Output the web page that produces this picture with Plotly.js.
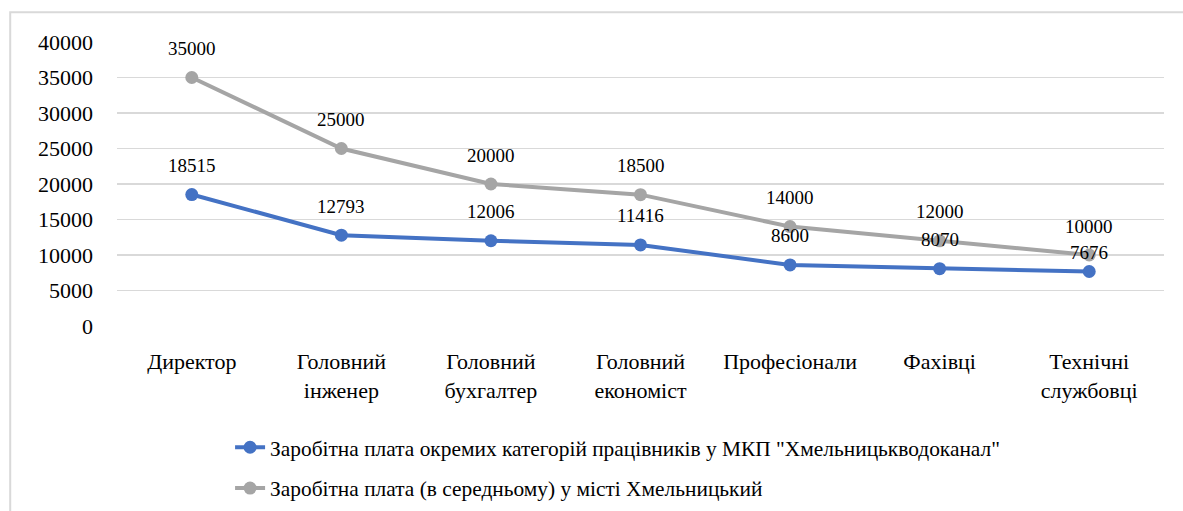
<!DOCTYPE html>
<html><head><meta charset="utf-8">
<script src="https://cdn.plot.ly/plotly-3.0.1.min.js"></script>
<style>html,body{margin:0;padding:0;background:#fff}#chart{width:1183px;height:511px}</style>
</head><body><div id="chart"></div>
<script>
var categories = ["Директор", "Головний<br>інженер", "Головний<br>бухгалтер", "Головний<br>економіст", "Професіонали", "Фахівці", "Технічні<br>службовці"];
var enterpriseSalary = [18515, 12793, 12006, 11416, 8600, 8070, 7676];
var citySalary = [35000, 25000, 20000, 18500, 14000, 12000, 10000];
var seriesNames = ["Заробітна плата окремих категорій працівників у МКП \"Хмельницькводоканал\"", "Заробітна плата (в середньому) у місті Хмельницький"];
var yTicks = [0, 5000, 10000, 15000, 20000, 25000, 30000, 35000, 40000];

var font = "Times New Roman, Liberation Serif, DejaVu Serif, serif";
var blue = "#4472C4", gray = "#A5A5A5";

var traces = [
  {x: categories, y: enterpriseSalary, name: seriesNames[0], type: "scatter", mode: "lines+markers", legendgroup: "a",
   line: {color: blue, width: 4}, marker: {color: blue, size: 13}},
  {x: categories, y: citySalary, name: seriesNames[1], type: "scatter", mode: "lines+markers", legendgroup: "b",
   line: {color: gray, width: 4}, marker: {color: gray, size: 13}}
];

// data labels above points; a label crowded by the other series' label sits a bit lower (as in the original)
var plotHeightPx = 284, yMax = 40000;
var annotations = [];
[enterpriseSalary, citySalary].forEach(function(arr, s){
  arr.forEach(function(v, i){
    var shift = 29;
    if (s === 0) {
      var gapPx = (citySalary[i] - v) * plotHeightPx / yMax;
      if (gapPx < 18) shift = 19;
    }
    annotations.push({x: categories[i], y: v, xref: "x", yref: "y", text: String(v), showarrow: false,
      yshift: shift, font: {family: font, size: 19, color: "#000"}});
  });
});

var layout = {
  width: 1183, height: 511,
  margin: {l: 117, r: 19, t: 42, b: 185, autoexpand: false},
  paper_bgcolor: "#fff", plot_bgcolor: "#fff",
  font: {family: font, size: 21, color: "#000"},
  xaxis: {type: "category", range: [-0.5, 6.5], showgrid: false, zeroline: false, showline: false, automargin: false,
    ticks: "", ticklabelstandoff: 20, tickfont: {family: font, size: 22, color: "#000"}, fixedrange: true},
  yaxis: {range: [0, yMax], tickvals: yTicks, ticktext: yTicks.map(String), showgrid: true, gridcolor: "#d9d9d9", gridwidth: 1.5,
    zeroline: false, showline: false, automargin: false, ticks: "", ticklabelstandoff: 23, tickfont: {family: font, size: 22, color: "#000"}},
  showlegend: true,
  legend: {orientation: "v", x: 0.108, xanchor: "left", y: -0.355, yanchor: "top", traceorder: "grouped",
    font: {family: font, size: 21.4, color: "#000"}, tracegroupgap: 10, itemwidth: 30},
  annotations: annotations,
  shapes: [{type: "rect", xref: "paper", yref: "paper", x0: -0.102, x1: 1.05, y0: -0.8, y1: 1.105,
    line: {color: "#d9d9d9", width: 2}, fillcolor: "rgba(0,0,0,0)", layer: "below"}]
};

Plotly.newPlot("chart", traces, layout, {displayModeBar: false, staticPlot: true});
</script></body></html>
